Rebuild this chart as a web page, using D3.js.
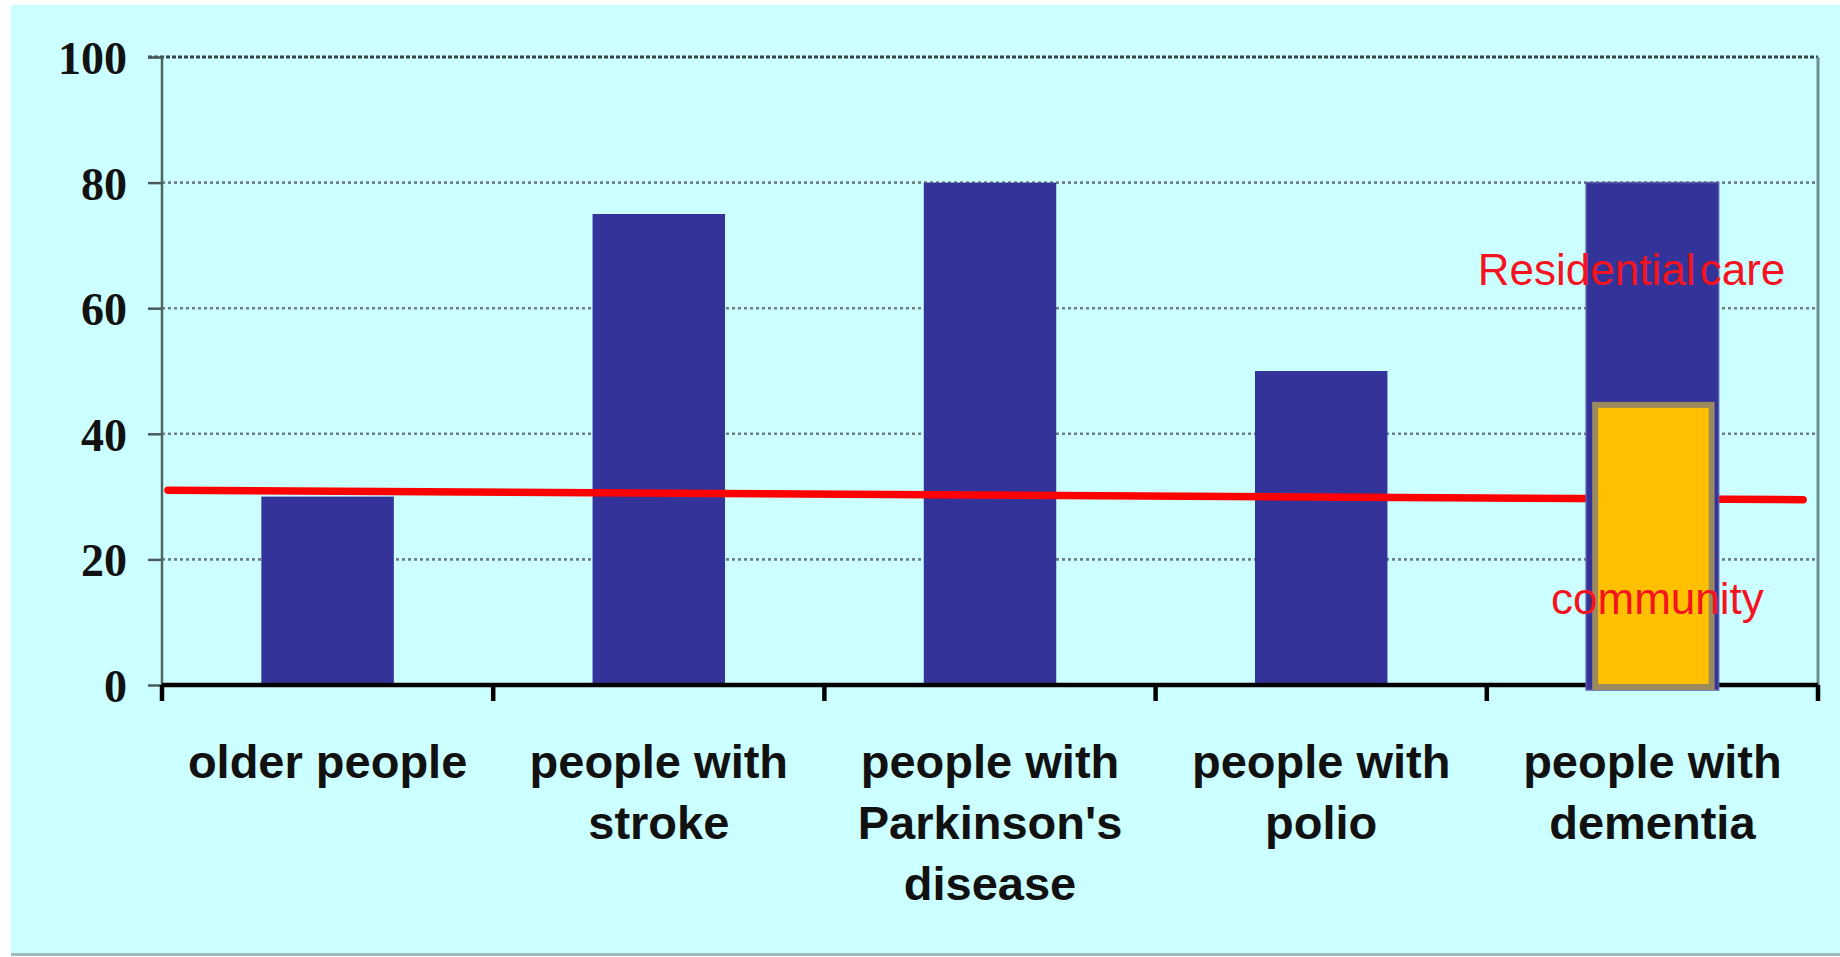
<!DOCTYPE html>
<html>
<head>
<meta charset="utf-8">
<script src="https://cdn.jsdelivr.net/npm/d3@7/dist/d3.min.js"></script>
<style>
  html, body { margin: 0; padding: 0; background: #ffffff; }
  svg { display: block; }
</style>
</head>
<body>
<svg id="chart" width="1840" height="957"></svg>
<script>
// Groups shown along the horizontal axis
const categories = ["older people", "people with stroke", "people with Parkinson's disease", "people with polio", "people with dementia"];
// Wrapped axis labels, one entry per line
const categoryLines = [
  ["older people"],
  ["people with", "stroke"],
  ["people with", "Parkinson's", "disease"],
  ["people with", "polio"],
  ["people with", "dementia"]
];
// Percentage per group
const values = [30, 75, 80, 50, 80];
// Share of the dementia group living in the community
const communityValue = 45;
const communityCategory = "people with dementia";
// Reference line: position along the category axis (in group units) and value
const refPos = [0.018, 4.955];
const refValues = [31, 29.5];
// Vertical axis ticks
const yTicks = [0, 20, 40, 60, 80, 100];
const yTickLabels = ["0", "20", "40", "60", "80", "100"];
// Annotations
const annotations = [
  { text: "Residential care", value: 63.7, pos: 3.973 },
  { text: "community", value: 11.3, pos: 4.194 }
];

const svg = d3.select("#chart");
const W = 1840, H = 957;
const plot = { left: 162, right: 1818, top: 57, bottom: 685 };

// Backdrop panel
svg.append("rect").attr("x", 11).attr("y", 956 - 3).attr("width", W - 11).attr("height", 3).attr("fill", "#9fbcbc");
svg.append("rect").attr("x", 11).attr("y", 5).attr("width", W - 11).attr("height", 948).attr("fill", "#ccffff");

const x = d3.scaleBand().domain(categories).range([plot.left, plot.right]).paddingInner(0.6).paddingOuter(0.3);
const xPos = d3.scaleLinear().domain([0, categories.length]).range([plot.left, plot.right]);
const y = d3.scaleLinear().domain([0, 100]).range([plot.bottom, plot.top]);

// Gridlines
const grid = svg.append("g");
grid.selectAll("line.g").data(yTicks.filter(d => d > 0 && d < 100)).join("line")
  .attr("x1", plot.left).attr("x2", plot.right)
  .attr("y1", d => y(d)).attr("y2", d => y(d))
  .attr("stroke", "#6f8080").attr("stroke-width", 2.6).attr("stroke-dasharray", "3,3");
grid.append("line")
  .attr("x1", plot.left - 14).attr("x2", plot.right)
  .attr("y1", y(100)).attr("y2", y(100))
  .attr("stroke", "#334444").attr("stroke-width", 2.8).attr("stroke-dasharray", "4,2");

// Right frame
svg.append("line").attr("x1", plot.right).attr("x2", plot.right)
  .attr("y1", y(100)).attr("y2", y(0))
  .attr("stroke", "#6f8f8f").attr("stroke-width", 3);

// Bars
const data = categories.map((c, i) => ({ c, v: values[i] }));
svg.append("g").selectAll("rect").data(data.filter(d => d.c !== communityCategory)).join("rect")
  .attr("x", d => x(d.c)).attr("width", x.bandwidth())
  .attr("y", d => y(d.v)).attr("height", d => y(0) - y(d.v))
  .attr("fill", "#333399");

// Y axis
const yAxis = d3.axisLeft(y).tickValues(yTicks).tickFormat((d, i) => yTickLabels[i]).tickSize(14).tickPadding(21);
const yg = svg.append("g").attr("transform", `translate(${plot.left},0)`).call(yAxis);
yg.select(".domain").remove();
yg.selectAll(".tick line").attr("stroke", "#4a5a5a").attr("stroke-width", 2.5);
yg.selectAll(".tick text")
  .attr("font-family", "'Liberation Serif', 'Times New Roman', serif")
  .attr("font-weight", "bold").attr("font-size", 46).attr("fill", "#111")
  .attr("dy", "0.36em");
svg.append("line").attr("x1", plot.left).attr("x2", plot.left)
  .attr("y1", y(100)).attr("y2", y(0))
  .attr("stroke", "#4f6565").attr("stroke-width", 2.5);

// Reference line
const refData = refPos.map((p, i) => [p, refValues[i]]);
svg.append("path").datum(refData)
  .attr("d", d3.line().x(d => xPos(d[0])).y(d => y(d[1])))
  .attr("stroke", "#ff0000").attr("stroke-width", 7.5).attr("fill", "none").attr("stroke-linecap", "round");

// X axis baseline and group separators
const xg = svg.append("g");
xg.append("line").attr("x1", plot.left).attr("x2", plot.right)
  .attr("y1", y(0)).attr("y2", y(0))
  .attr("stroke", "#000").attr("stroke-width", 4.5);
xg.selectAll("line.sep").data(d3.range(categories.length + 1)).join("line")
  .attr("x1", d => xPos(d)).attr("x2", d => xPos(d))
  .attr("y1", y(0)).attr("y2", y(0) + 16)
  .attr("stroke", "#000").attr("stroke-width", 4.5);

// Dementia bar with the community share inside it
const dem = data.find(d => d.c === communityCategory);
svg.append("rect")
  .attr("x", x(dem.c)).attr("width", x.bandwidth())
  .attr("y", y(dem.v)).attr("height", y(0) - y(dem.v) + 5)
  .attr("fill", "#333399").attr("stroke", "#5a5aa8").attr("stroke-width", 1.5);
svg.append("rect")
  .attr("x", x(dem.c) + 9).attr("width", x.bandwidth() - 16)
  .attr("y", y(communityValue) + 2.5).attr("height", y(0) - y(communityValue) - 0.5)
  .attr("fill", "#ffc000").attr("stroke", "#9a8a5e").attr("stroke-width", 6);

// Red annotations
svg.append("g").selectAll("text").data(annotations).join("text")
  .attr("x", d => xPos(d.pos)).attr("y", d => y(d.value))
  .attr("font-family", "'Liberation Sans', Arial, sans-serif").attr("font-size", 44)
  .attr("fill", "#f5131f").attr("word-spacing", -8)
  .text(d => d.text);

// Category labels
const labels = svg.append("g");
categories.forEach((c, i) => {
  const t = labels.append("text")
    .attr("x", x(c) + x.bandwidth() / 2).attr("y", 778)
    .attr("text-anchor", "middle")
    .attr("font-family", "'Liberation Sans', Arial, sans-serif")
    .attr("font-weight", "bold").attr("font-size", 47).attr("fill", "#111");
  categoryLines[i].forEach((line, j) => {
    t.append("tspan").attr("x", x(c) + x.bandwidth() / 2).attr("dy", j === 0 ? 0 : 61).text(line);
  });
});
</script>
</body>
</html>
